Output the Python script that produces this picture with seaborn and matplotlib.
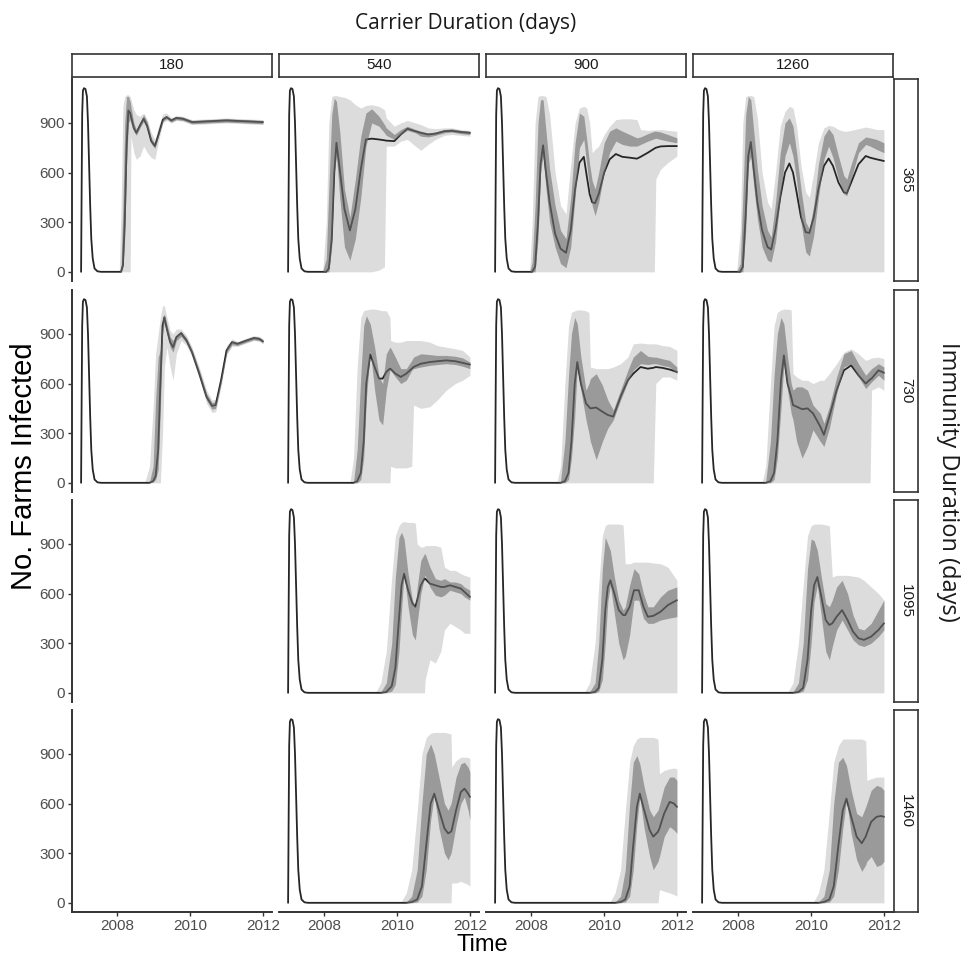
import pandas as pd
import matplotlib
matplotlib.use("Agg")
import matplotlib.pyplot as plt
import seaborn as sns

CARRIER = [180, 540, 900, 1260]
IMMUNITY = [365, 730, 1095, 1460]
Y_TICKS = [0, 300, 600, 900]
X_TICKS = [2008, 2010, 2012]

# first epidemic, same in every panel
FIRST_T = [2007.0, 2007.015, 2007.03, 2007.05, 2007.08, 2007.12, 2007.16, 2007.19,
           2007.22, 2007.25, 2007.28, 2007.32, 2007.37, 2007.45, 2007.55]
FIRST_Y = [0, 500, 950, 1095, 1110, 1105, 1060, 900, 650, 400, 200, 80, 20, 3, 0]

# rows: time, deterministic, iqr low, iqr high, 95% low, 95% high
C180_I365 = [
    (2008.05, 0, 0, 0, 0, 0), (2008.10, 0, 0, 30, 0, 400), (2008.15, 40, 30, 400, 0, 1000),
    (2008.20, 300, 200, 900, 0, 1060), (2008.25, 750, 650, 1060, 0, 1070),
    (2008.30, 975, 900, 1060, 0, 1070), (2008.35, 960, 920, 1030, 0, 1060),
    (2008.37, 940, 900, 1000, 820, 1040), (2008.45, 870, 850, 900, 720, 980),
    (2008.52, 840, 825, 860, 680, 950), (2008.62, 885, 870, 905, 700, 940),
    (2008.72, 925, 910, 950, 760, 960), (2008.82, 880, 860, 905, 720, 920),
    (2008.93, 790, 775, 810, 690, 840), (2009.03, 760, 745, 775, 680, 800),
    (2009.13, 830, 820, 850, 790, 880), (2009.25, 920, 910, 935, 900, 955),
    (2009.35, 935, 925, 945, 915, 960), (2009.48, 915, 905, 925, 900, 932),
    (2009.62, 930, 920, 940, 915, 945), (2009.80, 925, 915, 935, 910, 940),
    (2010.05, 905, 895, 915, 890, 920), (2010.35, 908, 898, 918, 893, 923),
    (2010.70, 912, 902, 922, 897, 927), (2011.00, 915, 905, 925, 900, 930),
    (2011.50, 910, 900, 920, 895, 925), (2012.00, 905, 895, 915, 890, 920),
]
C540_I365 = [
    (2007.95, 0, 0, 0, 0, 0), (2008.05, 0, 0, 80, 0, 300), (2008.12, 20, 0, 500, 0, 900),
    (2008.20, 200, 150, 950, 0, 1060), (2008.27, 600, 600, 1050, 0, 1065),
    (2008.33, 780, 700, 1030, 0, 1065), (2008.42, 620, 450, 850, 0, 1060),
    (2008.55, 380, 150, 500, 0, 1055), (2008.70, 250, 70, 330, 0, 1040),
    (2008.85, 380, 200, 560, 0, 1010), (2009.00, 620, 450, 820, 0, 990),
    (2009.14, 800, 760, 960, 0, 1005), (2009.30, 805, 900, 985, 0, 1010),
    (2009.50, 800, 880, 940, 10, 1000), (2009.65, 795, 840, 890, 30, 980),
    (2009.70, 793, 825, 870, 760, 930), (2009.92, 790, 800, 830, 760, 880),
    (2010.10, 830, 830, 860, 790, 900), (2010.28, 865, 855, 880, 800, 915),
    (2010.50, 850, 840, 860, 760, 900), (2010.65, 840, 820, 850, 735, 890),
    (2010.85, 830, 815, 840, 770, 870), (2011.05, 835, 825, 845, 800, 865),
    (2011.30, 850, 840, 860, 825, 870), (2011.50, 852, 845, 865, 830, 870),
    (2011.75, 845, 835, 855, 825, 860), (2012.00, 840, 830, 850, 820, 855),
]
C900_I365 = [
    (2007.95, 0, 0, 0, 0, 0), (2008.02, 0, 0, 60, 0, 300), (2008.10, 30, 0, 400, 0, 900),
    (2008.18, 300, 200, 900, 0, 1060), (2008.25, 650, 600, 1040, 0, 1065),
    (2008.32, 765, 700, 1040, 0, 1065), (2008.40, 600, 500, 850, 0, 1060),
    (2008.50, 420, 300, 620, 0, 950), (2008.65, 230, 150, 400, 0, 600),
    (2008.80, 140, 50, 250, 0, 400), (2008.95, 115, 25, 200, 0, 350),
    (2009.08, 250, 150, 450, 0, 650), (2009.20, 500, 450, 780, 0, 900),
    (2009.32, 660, 750, 960, 0, 990), (2009.44, 695, 800, 940, 0, 1000),
    (2009.52, 580, 650, 800, 0, 990), (2009.60, 470, 500, 650, 0, 900),
    (2009.67, 420, 400, 550, 0, 720), (2009.75, 415, 340, 500, 0, 740),
    (2009.85, 470, 420, 600, 0, 760), (2010.00, 600, 600, 780, 0, 830),
    (2010.15, 680, 720, 850, 0, 880), (2010.32, 712, 790, 870, 0, 920),
    (2010.50, 695, 770, 850, 0, 925), (2010.70, 690, 760, 830, 0, 925),
    (2010.90, 684, 760, 810, 0, 920), (2011.00, 695, 770, 815, 0, 860),
    (2011.20, 720, 790, 835, 0, 855), (2011.38, 745, 805, 850, 0, 858),
    (2011.42, 750, 808, 850, 560, 858), (2011.55, 758, 800, 845, 620, 860),
    (2011.75, 760, 790, 830, 660, 855), (2012.00, 760, 780, 810, 700, 850),
]
C1260_I365 = [
    (2007.95, 0, 0, 0, 0, 0), (2008.05, 0, 0, 50, 0, 250), (2008.12, 30, 0, 450, 0, 900),
    (2008.20, 350, 250, 950, 0, 1060), (2008.27, 700, 650, 1060, 0, 1065),
    (2008.34, 785, 700, 1040, 0, 1065), (2008.42, 620, 520, 850, 0, 1060),
    (2008.52, 420, 320, 620, 0, 930), (2008.65, 250, 150, 400, 0, 600),
    (2008.80, 150, 70, 250, 0, 420), (2008.90, 135, 60, 210, 0, 380),
    (2009.02, 260, 180, 420, 0, 600), (2009.15, 450, 450, 720, 0, 880),
    (2009.28, 600, 700, 900, 0, 970), (2009.40, 655, 780, 930, 0, 1000),
    (2009.50, 600, 700, 880, 0, 990), (2009.60, 480, 550, 720, 0, 880),
    (2009.72, 330, 300, 500, 0, 640), (2009.85, 240, 120, 300, 0, 480),
    (2009.95, 235, 95, 260, 0, 450), (2010.07, 330, 220, 400, 0, 600),
    (2010.20, 500, 450, 650, 0, 780), (2010.35, 640, 680, 820, 0, 870),
    (2010.48, 685, 760, 865, 0, 885), (2010.60, 640, 690, 830, 0, 880),
    (2010.75, 540, 560, 700, 0, 860), (2010.90, 480, 470, 580, 0, 850),
    (2010.98, 475, 460, 560, 0, 850), (2011.10, 540, 560, 650, 0, 855),
    (2011.30, 650, 720, 780, 0, 865), (2011.50, 700, 770, 815, 0, 875),
    (2011.62, 690, 760, 810, 0, 870), (2011.80, 680, 740, 800, 0, 860),
    (2012.00, 670, 720, 780, 0, 860),
]
C180_I730 = [
    (2008.75, 0, 0, 0, 0, 0), (2008.88, 0, 0, 5, 0, 100), (2008.98, 10, 5, 100, 0, 450),
    (2009.05, 40, 20, 500, 0, 780), (2009.12, 200, 80, 760, 0, 900),
    (2009.18, 600, 450, 800, 0, 1000), (2009.24, 950, 900, 1000, 300, 1070),
    (2009.29, 1000, 970, 1020, 700, 1070), (2009.36, 930, 900, 960, 820, 1000),
    (2009.45, 850, 820, 880, 700, 920), (2009.53, 820, 790, 860, 620, 900),
    (2009.62, 880, 860, 895, 780, 930), (2009.75, 905, 885, 915, 860, 930),
    (2009.90, 860, 845, 875, 830, 890), (2010.05, 790, 775, 805, 760, 820),
    (2010.25, 660, 645, 680, 630, 700), (2010.45, 520, 500, 540, 480, 560),
    (2010.60, 465, 445, 485, 425, 500), (2010.70, 470, 450, 490, 430, 505),
    (2010.85, 620, 600, 640, 585, 655), (2011.00, 800, 785, 815, 770, 830),
    (2011.15, 850, 835, 860, 825, 870), (2011.30, 840, 830, 850, 825, 855),
    (2011.55, 860, 850, 870, 845, 875), (2011.75, 875, 865, 885, 860, 890),
    (2011.90, 870, 860, 880, 855, 885), (2012.00, 855, 845, 865, 840, 870),
]
C540_I730 = [
    (2008.70, 0, 0, 0, 0, 0), (2008.80, 0, 0, 5, 0, 150), (2008.90, 10, 0, 200, 0, 700),
    (2009.00, 60, 20, 650, 0, 1000), (2009.08, 250, 150, 950, 0, 1040),
    (2009.15, 600, 500, 1010, 0, 1045), (2009.26, 776, 800, 960, 0, 1050),
    (2009.38, 700, 560, 820, 0, 1050), (2009.50, 630, 380, 640, 0, 1045),
    (2009.60, 630, 350, 600, 0, 1040), (2009.70, 670, 560, 780, 0, 1040),
    (2009.80, 690, 680, 820, 0, 1000), (2009.82, 688, 680, 815, 100, 860),
    (2009.95, 660, 640, 760, 90, 850), (2010.10, 640, 600, 690, 90, 850),
    (2010.25, 660, 620, 690, 90, 860), (2010.40, 690, 680, 740, 100, 860),
    (2010.45, 700, 690, 760, 470, 860), (2010.65, 720, 700, 780, 450, 860),
    (2010.90, 730, 710, 775, 460, 850), (2011.10, 735, 715, 770, 500, 830),
    (2011.35, 740, 720, 770, 560, 820), (2011.60, 735, 715, 765, 600, 810),
    (2011.80, 725, 705, 755, 620, 800), (2012.00, 715, 690, 730, 650, 760),
]
C900_I730 = [
    (2008.70, 0, 0, 0, 0, 0), (2008.80, 0, 0, 10, 0, 100), (2008.92, 10, 0, 250, 0, 600),
    (2009.02, 60, 20, 650, 0, 950), (2009.10, 250, 150, 900, 0, 1030),
    (2009.19, 600, 400, 1000, 0, 1040), (2009.26, 730, 700, 960, 0, 1045),
    (2009.36, 600, 560, 760, 0, 1045), (2009.50, 480, 380, 560, 0, 1040),
    (2009.58, 460, 300, 600, 0, 1030), (2009.62, 450, 250, 630, 0, 700),
    (2009.78, 455, 140, 660, 0, 690), (2009.95, 430, 250, 590, 0, 690),
    (2010.10, 410, 330, 500, 0, 690), (2010.25, 400, 380, 440, 0, 700),
    (2010.45, 520, 500, 560, 0, 720), (2010.65, 620, 610, 680, 0, 760),
    (2010.80, 660, 680, 760, 0, 840), (2011.00, 700, 720, 800, 0, 845),
    (2011.20, 690, 715, 765, 0, 840), (2011.35, 695, 720, 760, 0, 840),
    (2011.42, 700, 720, 760, 600, 840), (2011.60, 695, 710, 750, 640, 830),
    (2011.80, 685, 700, 740, 640, 825), (2012.00, 670, 660, 700, 620, 800),
]
C1260_I730 = [
    (2008.65, 0, 0, 0, 0, 0), (2008.75, 0, 0, 10, 0, 100), (2008.88, 10, 0, 250, 0, 600),
    (2008.98, 60, 20, 650, 0, 950), (2009.07, 250, 150, 900, 0, 1030),
    (2009.17, 620, 450, 1000, 0, 1045), (2009.25, 770, 720, 960, 0, 1050),
    (2009.35, 600, 560, 760, 0, 1050), (2009.45, 520, 420, 600, 0, 1045),
    (2009.50, 470, 380, 560, 0, 660), (2009.60, 460, 250, 580, 0, 640),
    (2009.75, 445, 150, 580, 0, 620), (2009.90, 450, 220, 560, 0, 620),
    (2010.05, 420, 320, 470, 0, 600), (2010.25, 340, 250, 420, 0, 620),
    (2010.35, 290, 220, 360, 0, 620), (2010.50, 400, 330, 460, 0, 660),
    (2010.70, 560, 540, 640, 0, 720), (2010.90, 680, 700, 780, 0, 790),
    (2011.10, 710, 720, 800, 0, 810), (2011.30, 650, 640, 720, 0, 780),
    (2011.50, 600, 570, 650, 0, 740), (2011.62, 625, 600, 680, 0, 750),
    (2011.66, 630, 610, 690, 560, 755), (2011.85, 680, 650, 720, 580, 760),
    (2012.00, 665, 620, 700, 560, 750),
]
C540_I1095 = [
    (2009.40, 0, 0, 0, 0, 0), (2009.55, 0, 0, 5, 0, 60), (2009.70, 5, 0, 60, 0, 250),
    (2009.85, 40, 10, 300, 0, 700), (2009.95, 150, 50, 700, 0, 950),
    (2010.05, 450, 250, 940, 0, 1010), (2010.12, 650, 500, 970, 0, 1030),
    (2010.19, 720, 720, 930, 0, 1035), (2010.30, 620, 520, 720, 0, 1030),
    (2010.42, 540, 350, 560, 0, 1030), (2010.50, 520, 320, 520, 0, 1025),
    (2010.55, 560, 420, 640, 0, 900), (2010.65, 650, 600, 800, 0, 880),
    (2010.75, 690, 700, 840, 0, 885), (2010.77, 690, 710, 840, 80, 890),
    (2010.90, 660, 640, 760, 200, 890), (2011.05, 650, 590, 690, 180, 890),
    (2011.20, 640, 580, 680, 250, 880), (2011.30, 640, 590, 690, 380, 760),
    (2011.45, 650, 620, 670, 420, 740), (2011.60, 640, 610, 670, 400, 740),
    (2011.75, 630, 600, 660, 380, 720), (2011.85, 610, 580, 640, 360, 710),
    (2012.00, 580, 560, 620, 360, 700),
]
C900_I1095 = [
    (2009.45, 0, 0, 0, 0, 0), (2009.60, 0, 0, 5, 0, 60), (2009.75, 5, 0, 60, 0, 300),
    (2009.85, 30, 10, 300, 0, 650), (2009.95, 200, 80, 750, 0, 950),
    (2010.03, 500, 300, 940, 0, 1010), (2010.10, 640, 550, 900, 0, 1020),
    (2010.17, 680, 650, 860, 0, 1020), (2010.28, 600, 480, 700, 0, 1020),
    (2010.40, 500, 300, 560, 0, 1020), (2010.52, 470, 200, 500, 0, 1015),
    (2010.58, 470, 220, 520, 0, 780), (2010.70, 520, 350, 650, 0, 780),
    (2010.82, 620, 560, 750, 0, 790), (2010.95, 620, 560, 720, 0, 790),
    (2011.08, 520, 450, 600, 0, 790), (2011.20, 460, 420, 520, 0, 790),
    (2011.35, 465, 420, 520, 0, 785), (2011.55, 490, 440, 580, 0, 780),
    (2011.75, 530, 450, 620, 0, 760), (2012.00, 560, 460, 640, 0, 680),
]
C1260_I1095 = [
    (2009.35, 0, 0, 0, 0, 0), (2009.50, 0, 0, 5, 0, 60), (2009.65, 5, 0, 60, 0, 300),
    (2009.78, 30, 10, 300, 0, 650), (2009.90, 200, 80, 750, 0, 950),
    (2010.00, 500, 300, 930, 0, 1010), (2010.08, 650, 550, 920, 0, 1020),
    (2010.17, 700, 650, 860, 0, 1020), (2010.28, 580, 460, 700, 0, 1020),
    (2010.40, 440, 250, 540, 0, 1015), (2010.50, 410, 200, 520, 0, 1010),
    (2010.58, 420, 280, 560, 0, 700), (2010.70, 460, 380, 640, 0, 710),
    (2010.85, 500, 440, 680, 0, 710), (2011.00, 440, 380, 600, 0, 710),
    (2011.15, 370, 320, 470, 0, 705), (2011.30, 330, 290, 390, 0, 700),
    (2011.45, 320, 280, 380, 0, 680), (2011.65, 340, 300, 420, 0, 640),
    (2011.85, 380, 340, 500, 0, 600), (2012.00, 420, 380, 560, 0, 560),
]
C540_I1460 = [
    (2010.10, 0, 0, 0, 0, 0), (2010.25, 0, 0, 5, 0, 60), (2010.40, 5, 0, 40, 0, 200),
    (2010.55, 20, 5, 200, 0, 550), (2010.68, 100, 40, 600, 0, 900),
    (2010.80, 350, 200, 900, 0, 1000), (2010.92, 600, 500, 960, 0, 1025),
    (2011.02, 660, 650, 900, 0, 1030), (2011.15, 560, 450, 760, 0, 1030),
    (2011.30, 450, 300, 600, 0, 1030), (2011.40, 420, 260, 560, 0, 1025),
    (2011.48, 430, 300, 600, 0, 1020), (2011.50, 440, 320, 620, 120, 820),
    (2011.62, 560, 470, 760, 120, 860), (2011.75, 670, 600, 840, 130, 880),
    (2011.85, 690, 640, 850, 120, 880), (2011.95, 660, 560, 820, 110, 880),
    (2012.00, 640, 500, 790, 100, 870),
]
C900_I1460 = [
    (2010.15, 0, 0, 0, 0, 0), (2010.30, 0, 0, 5, 0, 60), (2010.45, 5, 0, 40, 0, 200),
    (2010.58, 20, 5, 200, 0, 550), (2010.70, 100, 40, 600, 0, 850),
    (2010.80, 350, 200, 850, 0, 950), (2010.90, 580, 480, 890, 0, 990),
    (2010.98, 660, 640, 840, 0, 1000), (2011.10, 560, 450, 700, 0, 1000),
    (2011.25, 440, 280, 560, 0, 1000), (2011.35, 400, 200, 520, 0, 1000),
    (2011.48, 430, 250, 560, 0, 990), (2011.52, 450, 280, 590, 80, 780),
    (2011.65, 540, 400, 700, 70, 800), (2011.80, 610, 460, 760, 60, 810),
    (2011.92, 600, 440, 760, 50, 815), (2012.00, 580, 420, 740, 40, 810),
]
C1260_I1460 = [
    (2010.05, 0, 0, 0, 0, 0), (2010.20, 0, 0, 5, 0, 60), (2010.35, 5, 0, 40, 0, 200),
    (2010.50, 20, 5, 200, 0, 550), (2010.62, 100, 40, 600, 0, 850),
    (2010.75, 350, 200, 850, 0, 950), (2010.87, 560, 450, 880, 0, 990),
    (2010.97, 630, 620, 830, 0, 990), (2011.10, 520, 420, 680, 0, 990),
    (2011.25, 400, 260, 540, 0, 990), (2011.39, 360, 190, 520, 0, 990),
    (2011.50, 400, 230, 580, 0, 980), (2011.53, 420, 250, 600, 0, 740),
    (2011.65, 490, 280, 680, 0, 750), (2011.80, 520, 220, 710, 0, 760),
    (2011.92, 525, 230, 700, 0, 760), (2012.00, 520, 250, 680, 0, 760),
]

PANELS = {
    (180, 365): C180_I365, (540, 365): C540_I365, (900, 365): C900_I365, (1260, 365): C1260_I365,
    (180, 730): C180_I730, (540, 730): C540_I730, (900, 730): C900_I730, (1260, 730): C1260_I730,
    (540, 1095): C540_I1095, (900, 1095): C900_I1095, (1260, 1095): C1260_I1095,
    (540, 1460): C540_I1460, (900, 1460): C900_I1460, (1260, 1460): C1260_I1460,
}


def panel_frames(rows):
    band = pd.DataFrame(rows, columns=['time', 'det', 'q1', 'q3', 'lo', 'hi'])
    first = pd.DataFrame({'time': FIRST_T, 'det': FIRST_Y})
    line = pd.concat([first, band[['time', 'det']]], ignore_index=True)
    return line, band


# layout in pixels of the 965 x 955 figure
W, H = 965, 955
COL_X = [72, 279, 486, 693]
ROW_Y = [79, 290, 500, 710]
PW, PH = 200, 202


def rect(x, y, w, h):
    return [x / W, 1 - (y + h) / H, w / W, h / H]


sns.set_theme(style="ticks")
plt.rcParams['font.family'] = ['Liberation Sans', 'DejaVu Sans']

fig = plt.figure(figsize=(9.65, 9.55), dpi=100)

for r, imm in enumerate(IMMUNITY):
    for c, car in enumerate(CARRIER):
        ax = fig.add_axes(rect(COL_X[c], ROW_Y[r], PW, PH))
        ax.set_xlim(2006.75, 2012.25)
        ax.set_ylim(-55.5, 1165.5)
        ax.set_facecolor('white')
        for s in ['top', 'right']:
            ax.spines[s].set_visible(False)
        ax.spines['left'].set_visible(c == 0)
        ax.spines['bottom'].set_visible(r == 3)
        for s in ['left', 'bottom']:
            ax.spines[s].set_color('#333333')
            ax.spines[s].set_linewidth(1.4)
        if c == 0:
            ax.set_yticks(Y_TICKS)
            ax.set_yticklabels([str(v) for v in Y_TICKS])
        else:
            ax.set_yticks([])
        if r == 3:
            ax.set_xticks(X_TICKS)
            ax.set_xticklabels([str(v) for v in X_TICKS])
        else:
            ax.set_xticks([])
        ax.tick_params(axis='both', length=3, width=1.0, color='#333333',
                       labelsize=11, labelcolor='#4d4d4d', pad=2)
        ax.set_xlabel('')
        ax.set_ylabel('')

        rows = PANELS.get((car, imm))
        if rows is not None:
            line, band = panel_frames(rows)
            ax.fill_between(band['time'], band['lo'], band['hi'], color='#dcdcdc',
                            lw=0, zorder=1)
            sns.lineplot(data=line, x='time', y='det', ax=ax, color='#262626',
                         lw=1.3, estimator=None, sort=False, zorder=2)
            ax.fill_between(band['time'], band['q1'], band['q3'], color='#6e6e6e',
                            alpha=0.6, lw=0, zorder=3)
            ax.set_xlabel('')
            ax.set_ylabel('')

        # top strips
        if r == 0:
            sax = fig.add_axes(rect(COL_X[c], 54, PW, 23))
            sax.set_xticks([])
            sax.set_yticks([])
            sax.set_facecolor('white')
            for s in sax.spines.values():
                s.set_color('#333333')
                s.set_linewidth(1.2)
            sax.text(0.5, 0.5, str(car), ha='center', va='center', fontsize=11,
                     color='#1a1a1a', transform=sax.transAxes)

    # right strips
    sax = fig.add_axes(rect(894, ROW_Y[r], 24, PH))
    sax.set_xticks([])
    sax.set_yticks([])
    sax.set_facecolor('white')
    for s in sax.spines.values():
        s.set_color('#333333')
        s.set_linewidth(1.2)
    sax.text(0.5, 0.5, str(imm), ha='center', va='center', rotation=-90,
             fontsize=11, color='#1a1a1a', transform=sax.transAxes)

fig.text(466 / W, 1 - 23 / H, 'Carrier Duration (days)', ha='center', va='center',
         fontsize=15, family=['Open Sans', 'DejaVu Sans'], color='#1a1a1a')
fig.text(948 / W, 1 - 482 / H, 'Immunity Duration (days)', ha='center', va='center',
         rotation=-90, fontsize=17, family=['Open Sans', 'DejaVu Sans'], color='#1a1a1a')
fig.text(24 / W, 1 - 466 / H, 'No. Farms Infected', ha='center', va='center',
         rotation=90, fontsize=21, color='black')
fig.text(482 / W, 1 - 945 / H, 'Time', ha='center', va='center',
         fontsize=17, color='black')

fig.savefig('out.png', dpi=100, facecolor='white')
